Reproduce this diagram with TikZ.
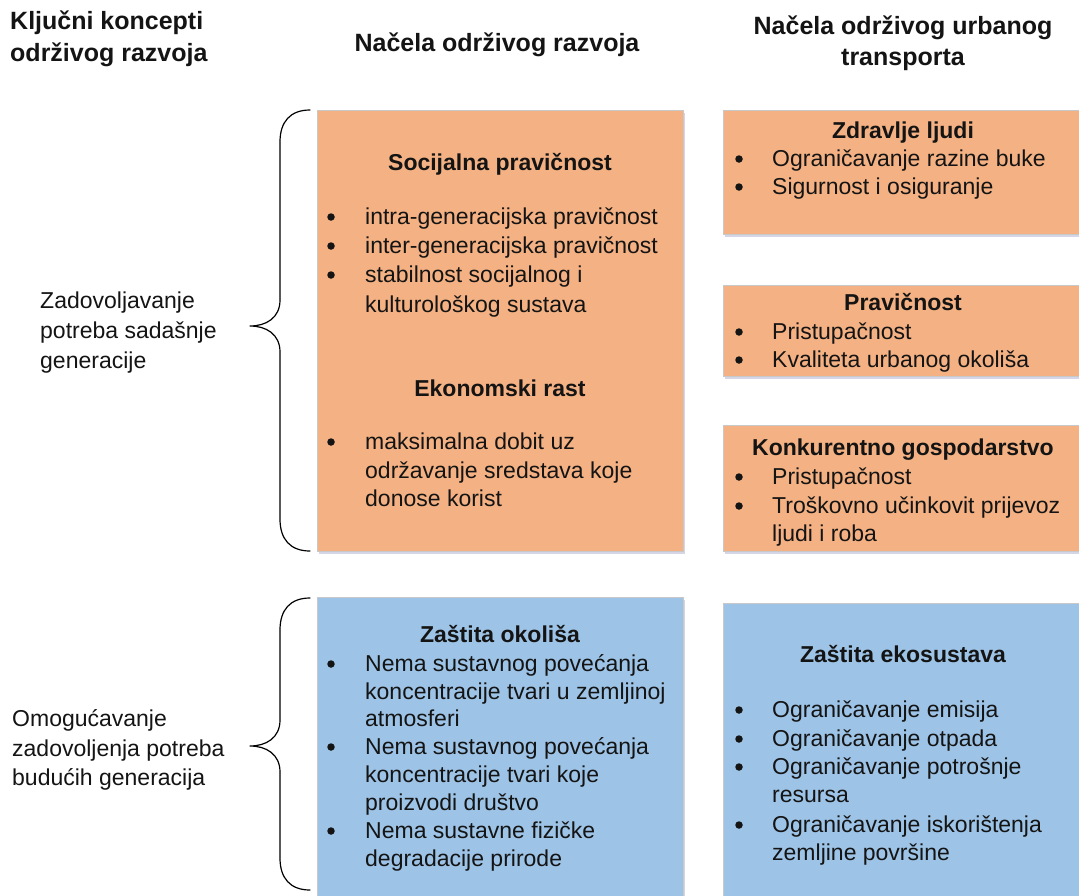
\documentclass[tikz,border=0pt]{standalone}
\usepackage{fontspec}
\setmainfont{Liberation Sans}
\usetikzlibrary{shadows}
\definecolor{orfill}{HTML}{F4B183}
\definecolor{blfill}{HTML}{9DC3E6}
\definecolor{boxline}{HTML}{C8C8C8}
\definecolor{txtcol}{HTML}{141414}
\newcommand\bodyfont{\fontsize{23}{28}\selectfont}
\newcommand\headfont{\fontsize{25}{31}\selectfont\bfseries}
\newcommand\itm[5]{\node[txt] (#1) at (#3,#4) {#5}; \node[dot] (#1-b) at (#2,#4-7) {};}
\newcommand\cont[4]{\node[txt] (#1) at (#2,#3) {#4};}
\begin{document}
\begin{tikzpicture}[x=1pt,y=-1pt,
  box/.style={draw=boxline, line width=1pt, inner sep=0, anchor=north west,
    drop shadow={shadow xshift=1.5pt, shadow yshift=-2.5pt, opacity=0.25, fill=blue!30!gray}},
  obox/.style={box, fill=orfill},
  bbox/.style={box, fill=blfill},
  txt/.style={anchor=base west, inner sep=0, font=\bodyfont, text=txtcol},
  dot/.style={circle, fill=txtcol, inner sep=0, minimum size=7.5pt},
  ttl/.style={anchor=base, inner sep=0, font=\bodyfont\bfseries, text=txtcol},
  hd/.style={anchor=base, inner sep=0, font=\headfont, text=txtcol},
  hdl/.style={anchor=base west, inner sep=0, font=\headfont, text=txtcol},
  brace/.style={line width=1.2pt, line cap=round, line join=round}]
\useasboundingbox (0,0) rectangle (1079,895);
\fill[white] (0,0) rectangle (1079,895);

% headers
\node[hdl] (h1a) at (10,29) {Ključni koncepti};
\node[hdl] (h1b) at (10,61) {održivog razvoja};
\node[hd] (h2) at (497,51) {Načela održivog razvoja};
\node[hd] (h3a) at (903,34) {Načela održivog urbanog};
\node[hd] (h3b) at (903,65) {transporta};

% boxes
\node[obox, minimum width=366pt, minimum height=441pt] (osr) at (317,110) {};
\node[obox, minimum width=360pt, minimum height=124pt] (zdr) at (723,110) {};
\node[obox, minimum width=360pt, minimum height=91pt] (pra) at (723,285) {};
\node[obox, minimum width=360pt, minimum height=126pt] (kon) at (723,425) {};
\node[bbox, minimum width=366pt, minimum height=304pt] (zok) at (317,597) {};
\node[bbox, minimum width=360pt, minimum height=298pt] (zek) at (723,603) {};

% braces
\draw[brace] (310,110) .. controls (290,110) and (280,122) .. (280,142) -- (280,300)
  .. controls (280,318) and (266,326) .. (250,326)
  .. controls (266,326) and (280,334) .. (280,352) -- (280,519)
  .. controls (280,539) and (290,551) .. (310,551);
\draw[brace] (310,598) .. controls (290,598) and (280,610) .. (280,630) -- (280,720)
  .. controls (280,738) and (266,746) .. (250,746)
  .. controls (266,746) and (280,754) .. (280,772) -- (280,858)
  .. controls (280,878) and (290,890) .. (310,890);

% left labels
\cont{l1a}{40}{308}{Zadovoljavanje}
\cont{l1b}{40}{338}{potreba sadašnje}
\cont{l1c}{40}{368}{generacije}
\cont{l2a}{12}{726}{Omogućavanje}
\cont{l2b}{12}{756}{zadovoljenja potreba}
\cont{l2c}{12}{785}{budućih generacija}

% left orange box
\node[ttl] (t1) at (500,170) {Socijalna pravičnost};
\itm{a1}{331}{365}{224}{intra-generacijska pravičnost}
\itm{a2}{331}{365}{253}{inter-generacijska pravičnost}
\itm{a3}{331}{365}{282}{stabilnost socijalnog i}
\cont{a3c}{365}{312}{kulturološkog sustava}
\node[ttl] (t2) at (500,396) {Ekonomski rast};
\itm{a4}{331}{365}{449}{maksimalna dobit uz}
\cont{a4c}{365}{478}{održavanje sredstava koje}
\cont{a4d}{365}{506}{donose korist}

% right orange boxes
\node[ttl] (t3) at (903,138) {Zdravlje ljudi};
\itm{b1}{739}{772}{166}{Ograničavanje razine buke}
\itm{b2}{739}{772}{194}{Sigurnost i osiguranje}
\node[ttl] (t4) at (903,310) {Pravičnost};
\itm{b3}{739}{772}{339}{Pristupačnost}
\itm{b4}{739}{772}{367}{Kvaliteta urbanog okoliša}
\node[ttl] (t5) at (903,455) {Konkurentno gospodarstvo};
\itm{b5}{739}{772}{484}{Pristupačnost}
\itm{b6}{739}{772}{513}{Troškovno učinkovit prijevoz}
\cont{b6c}{772}{541}{ljudi i roba}

% left blue box
\node[ttl] (t6) at (500,642) {Zaštita okoliša};
\itm{c1}{331}{365}{671}{Nema sustavnog povećanja}
\cont{c1c}{365}{699}{koncentracije tvari u zemljinoj}
\cont{c1d}{365}{726}{atmosferi}
\itm{c2}{331}{365}{754}{Nema sustavnog povećanja}
\cont{c2c}{365}{782}{koncentracije tvari koje}
\cont{c2d}{365}{810}{proizvodi društvo}
\itm{c3}{331}{365}{838}{Nema sustavne fizičke}
\cont{c3c}{365}{866}{degradacije prirode}

% right blue box
\node[ttl] (t7) at (903,662) {Zaštita ekosustava};
\itm{d1}{739}{772}{717}{Ograničavanje emisija}
\itm{d2}{739}{772}{746}{Ograničavanje otpada}
\itm{d3}{739}{772}{774}{Ograničavanje potrošnje}
\cont{d3c}{772}{802}{resursa}
\itm{d4}{739}{772}{832}{Ograničavanje iskorištenja}
\cont{d4c}{772}{860}{zemljine površine}
\end{tikzpicture}
\end{document}
